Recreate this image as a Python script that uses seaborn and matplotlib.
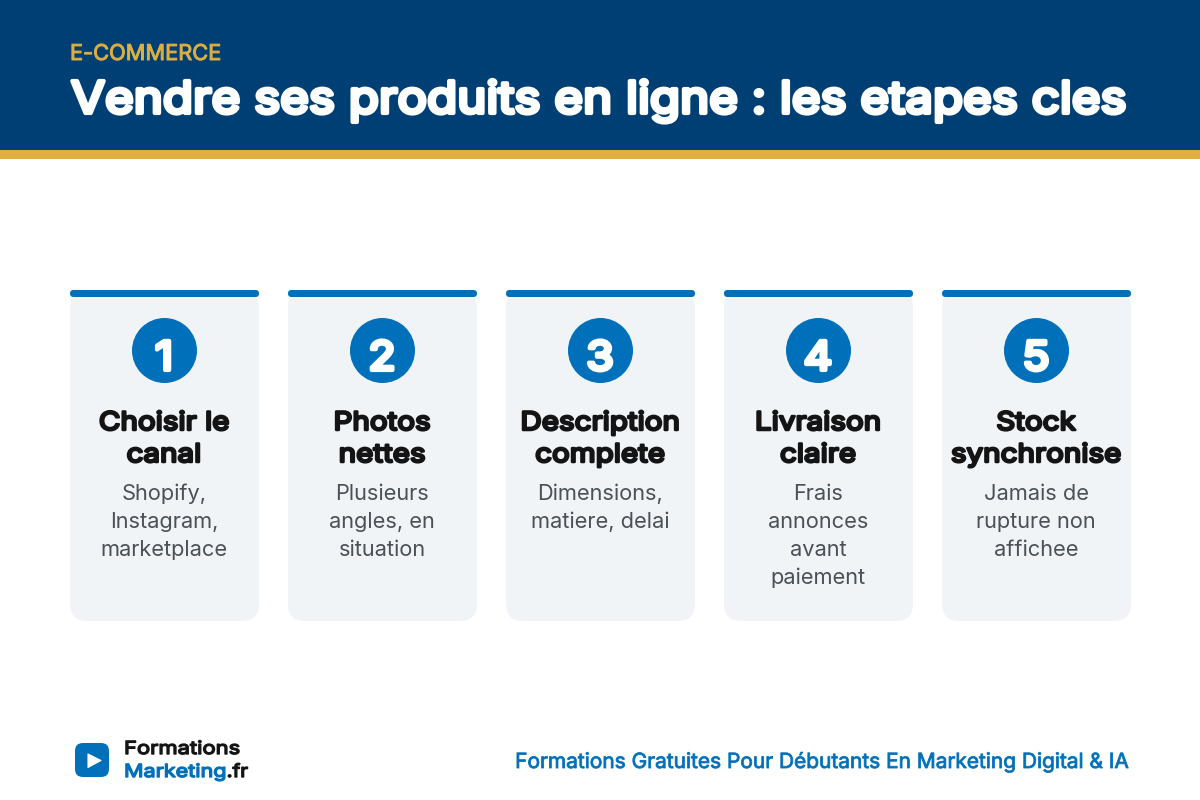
import matplotlib
matplotlib.use('Agg')
import matplotlib.pyplot as plt
import matplotlib.patheffects as pe
import pandas as pd
import seaborn as sns
from matplotlib.patches import FancyBboxPatch
from matplotlib.transforms import Affine2D

kicker = 'E-COMMERCE'
title = 'Vendre ses produits en ligne : les etapes cles'
steps = [1, 2, 3, 4, 5]
step_titles = [
    ['Choisir le', 'canal'],
    ['Photos', 'nettes'],
    ['Description', 'complete'],
    ['Livraison', 'claire'],
    ['Stock', 'synchronise'],
]
step_texts = [
    ['Shopify,', 'Instagram,', 'marketplace'],
    ['Plusieurs', 'angles, en', 'situation'],
    ['Dimensions,', 'matiere, delai'],
    ['Frais', 'annonces', 'avant', 'paiement'],
    ['Jamais de', 'rupture non', 'affichee'],
]
tagline = 'Formations Gratuites Pour Débutants En Marketing Digital & IA'

NAVY = '#003F73'
GOLD = '#DFB040'
BLUE = '#0070BA'
CARD = '#F0F4F7'
DARK = '#141414'
GREY = '#4B5157'
FONT = 'Inter'


def px(size):
    return size * 0.72


class Heavy(pe.AbstractPathEffect):
    # Inter only comes in regular here: fatten the outline and widen it about x0
    def __init__(self, width, x0=0, stretch=1.0):
        super().__init__()
        self.width, self.x0, self.stretch = width, x0, stretch

    def draw_path(self, renderer, gc, tpath, affine, rgbFace):
        wide = affine + Affine2D().translate(-self.x0, 0).scale(self.stretch, 1).translate(self.x0, 0)
        gc0 = renderer.new_gc()
        gc0.copy_properties(gc)
        gc0.set_linewidth(self.width)
        gc0.set_foreground(rgbFace)
        gc0.set_joinstyle('round')
        renderer.draw_path(gc0, tpath, wide, rgbFace)
        gc0.restore()


def heavy(text, width, stretch=1.0):
    x0 = text.get_position()[0]  # axes run in figure pixels
    text.set_path_effects([Heavy(width, x0, stretch)])
    return text


sns.set_theme(style='white')
fig = plt.figure(figsize=(12, 8), dpi=100, facecolor='white')
ax = fig.add_axes([0, 0, 1, 1])
ax.set_xlim(0, 1200)
ax.set_ylim(800, 0)
ax.axis('off')

# header band
ax.add_patch(plt.Rectangle((0, 0), 1200, 150, color=NAVY, lw=0))
ax.add_patch(plt.Rectangle((0, 150), 1200, 9, color=GOLD, lw=0))
heavy(ax.text(70, 60, kicker, color=GOLD, fontsize=px(21.8), family=FONT), 0.7)
heavy(ax.text(71, 113, title, color='white', fontsize=px(44), family=FONT), 3, 1.12)

# cards
card_x = [70 + 218 * i for i in range(len(steps))]
centers = [x + 94.5 for x in card_x]
for x, cx, num, head, body in zip(card_x, centers, steps, step_titles, step_texts):
    ax.add_patch(FancyBboxPatch((x, 290), 189, 331, boxstyle='round,pad=0,rounding_size=17',
                                fc=CARD, ec='none'))
    ax.add_patch(FancyBboxPatch((x, 290), 189, 7, boxstyle='round,pad=0,rounding_size=3.5',
                                fc=BLUE, ec='none'))
    heavy(ax.text(cx - 0.5, 370, str(num), color='white', fontsize=px(40), family=FONT,
                  ha='center'), 3, 1.12)
    for i, line in enumerate(head):
        heavy(ax.text(cx - 0.5, 430 + 32 * i, line, color=DARK, fontsize=px(25.5), family=FONT,
                      ha='center'), 1.8, 1.16)
    for i, line in enumerate(body):
        ax.text(cx - 0.5, 500 + 28 * i, line, color=GREY, fontsize=px(21.8), family=FONT,
                ha='center')

# number discs
sns.scatterplot(data=pd.DataFrame({'x': [c - 1 for c in centers], 'y': [349.5] * len(steps)}),
                x='x', y='y', s=px(65) ** 2, color=BLUE, linewidth=0, legend=False, ax=ax, zorder=2)
ax.collections[-1].set_snap(False)
for t in ax.texts:
    t.set_zorder(3)
ax.set_xlim(0, 1200)
ax.set_ylim(800, 0)
ax.set_xlabel('')
ax.set_ylabel('')

# footer logo
ax.add_patch(FancyBboxPatch((75, 743), 34, 34, boxstyle='round,pad=0,rounding_size=8',
                            fc=BLUE, ec='none'))
ax.add_patch(plt.Polygon([(88, 754), (88, 767.5), (101, 760.5)], fc='white', ec='white', lw=0.8, joinstyle='round'))
heavy(ax.text(124, 754, 'Formations', color=DARK, fontsize=px(18), family=FONT), 1.0, 1.22)
brand = heavy(ax.text(124, 777, 'Marketing', color=BLUE, fontsize=px(18), family=FONT), 1.0, 1.2)
fig.canvas.draw()
brand_box = brand.get_window_extent()
end = brand_box.x0 + brand_box.width * 1.2
heavy(ax.text(end, 777, '.fr', color=DARK, fontsize=px(18), family=FONT), 1.0, 1.15)

heavy(ax.text(1129, 768, tagline, color=BLUE, fontsize=px(20.9), family=FONT, ha='right'), 0.6)

fig.savefig('out.png', dpi=100)
